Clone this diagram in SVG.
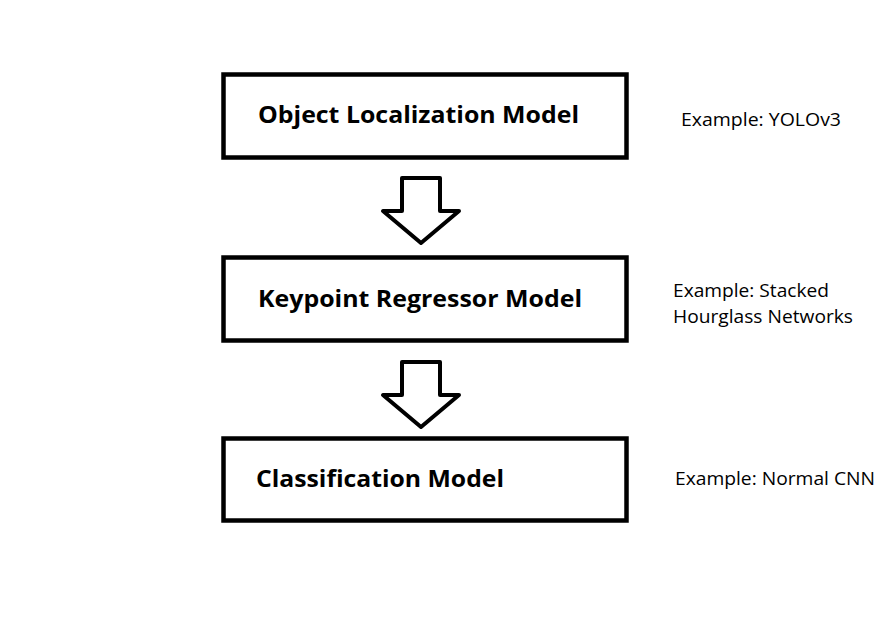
<svg xmlns="http://www.w3.org/2000/svg" width="896" height="638" viewBox="0 0 896 638">
<style>
.box{fill:#fff;stroke:#000;stroke-width:4.5}
.t{font-family:"Open Sans","Noto Sans","Liberation Sans",sans-serif;font-weight:bold;font-size:23px;fill:#000}
.n{font-family:"Open Sans","Noto Sans","Liberation Sans",sans-serif;font-size:18px;fill:#000}
.arr{fill:#fff;stroke:#000;stroke-width:4;stroke-linejoin:round}
</style>
<rect width="896" height="638" fill="#fff"/>
<g id="connectors">
<path class="arr" d="M402,178 H440 V211 H459 L421,243 L383,211 H402 Z"/>
<path class="arr" d="M402,362 H440 V395 H459 L421,427 L383,395 H402 Z"/>
</g>
<g id="node-localization">
<rect class="box" x="223.5" y="74.5" width="403" height="83"/>
<text class="t" x="258" y="123" textLength="321" lengthAdjust="spacingAndGlyphs">Object Localization Model</text>
</g>
<g id="node-keypoint">
<rect class="box" x="223.5" y="257.5" width="403" height="83"/>
<text class="t" x="258" y="307" textLength="324" lengthAdjust="spacingAndGlyphs">Keypoint Regressor Model</text>
</g>
<g id="node-classification">
<rect class="box" x="223.5" y="438.5" width="403" height="82"/>
<text class="t" x="256" y="487" textLength="248" lengthAdjust="spacingAndGlyphs">Classification Model</text>
</g>
<g id="note-yolo">
<text class="n" x="681" y="126" textLength="160" lengthAdjust="spacingAndGlyphs">Example: YOLOv3</text>
</g>
<g id="note-hourglass">
<text class="n" x="673" y="297" textLength="156" lengthAdjust="spacingAndGlyphs">Example: Stacked</text>
<text class="n" x="673" y="323" textLength="180" lengthAdjust="spacingAndGlyphs">Hourglass Networks</text>
</g>
<g id="note-cnn">
<text class="n" x="675" y="485" textLength="200" lengthAdjust="spacingAndGlyphs">Example: Normal CNN</text>
</g>
</svg>
